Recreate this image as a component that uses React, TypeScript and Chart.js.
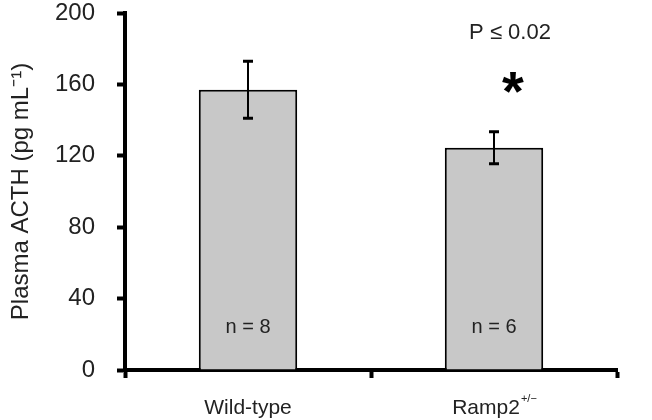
import React, { useEffect, useRef } from "react";
import { Chart, registerables } from "chart.js";

Chart.register(...registerables);

const categories = ["Wild-type", "Ramp2"];
const categorySuperscripts = ["", "+/\u2212"];
const means = [157, 124.5];
const errors = [16, 9];
const nLabels = ["n = 8", "n = 6"];
const yMin = 0;
const yMax = 200;
const yStep = 40;
const pLabel = "P \u2264 0.02";
const starLabel = "*";
const starIndex = 1;
const yTitle = "Plasma ACTH (pg mL\u207B\u00B9)";

const FONT = "'Liberation Sans', Arial, Helvetica, sans-serif";

const overlayPlugin = {
  id: "overlay",
  afterDatasetsDraw(chart: any) {
    const ctx = chart.ctx;
    const meta = chart.getDatasetMeta(0);
    const ys = chart.scales.y;
    const xs = chart.scales.x;
    ctx.save();
    // error bars
    meta.data.forEach((bar: any, i: number) => {
      const x = bar.x;
      const top = ys.getPixelForValue(means[i] + errors[i]);
      const bot = ys.getPixelForValue(means[i] - errors[i]);
      ctx.strokeStyle = "#000";
      ctx.lineWidth = 2;
      ctx.beginPath();
      ctx.moveTo(x, top);
      ctx.lineTo(x, bot);
      ctx.stroke();
      ctx.lineWidth = 3;
      ctx.beginPath();
      ctx.moveTo(x - 5, top);
      ctx.lineTo(x + 5, top);
      ctx.moveTo(x - 5, bot);
      ctx.lineTo(x + 5, bot);
      ctx.stroke();
    });
    // n labels
    ctx.fillStyle = "#222";
    ctx.font = `20px ${FONT}`;
    ctx.textAlign = "center";
    ctx.textBaseline = "middle";
    meta.data.forEach((bar: any, i: number) => {
      ctx.fillText(nLabels[i], bar.x, ys.getPixelForValue(24));
    });
    // significance
    const sx = meta.data[starIndex].x;
    ctx.font = `22px ${FONT}`;
    ctx.fillText(pLabel, sx + 16, ys.getPixelForValue(189));
    ctx.font = `bold 56px ${FONT}`;
    ctx.textBaseline = "middle";
    const cy = ys.getPixelForValue(153);
    ctx.fillStyle = "#000";
    ctx.fillText(starLabel, sx + 19, cy - 2);
    // x category labels
    ctx.fillStyle = "#222";
    ctx.textBaseline = "middle";
    const ly = xs.bottom - 12;
    categories.forEach((c, i) => {
      const cx = xs.getPixelForValue(i);
      ctx.font = `21px ${FONT}`;
      const w = ctx.measureText(c).width;
      ctx.font = `11px ${FONT}`;
      const sw = categorySuperscripts[i] ? ctx.measureText(categorySuperscripts[i]).width : 0;
      const total = w + sw;
      const start = cx - total / 2;
      ctx.textAlign = "left";
      ctx.font = `21px ${FONT}`;
      ctx.fillText(c, start, ly);
      if (sw) {
        ctx.font = `11px ${FONT}`;
        ctx.fillText(categorySuperscripts[i], start + w + 1, ly - 9);
      }
    });
    ctx.restore();
  },
};

export default function App() {
  const ref = useRef<HTMLCanvasElement>(null);
  useEffect(() => {
    if (!ref.current) return;
    const chart = new Chart(ref.current, {
      type: "bar",
      data: {
        labels: categories,
        datasets: [
          {
            data: means,
            backgroundColor: "#c8c8c8",
            borderColor: "#000",
            borderWidth: 2,
            borderSkipped: "bottom",
            categoryPercentage: 1,
            barPercentage: 0.4,
          },
        ],
      },
      options: {
        responsive: false,
        animation: false,
        layout: { padding: { top: 13, right: 35, left: 0, bottom: 0 } },
        plugins: { legend: { display: false }, tooltip: { enabled: false } },
        scales: {
          x: {
            type: "category",
            offset: true,
            z: 1,
            grid: {
              display: true,
              offset: true,
              drawOnChartArea: false,
              drawTicks: true,
              tickLength: 8,
              tickWidth: 4,
              tickColor: "#000",
              color: "#000",
            },
            border: { display: true, width: 4, color: "#000" },
            ticks: { display: false },
            afterFit: (s: any) => {
              s.height = 50;
              s.paddingLeft = 0;
              s.paddingRight = 0;
            },
          },
          y: {
            min: yMin,
            max: yMax,
            z: 1,
            ticks: {
              stepSize: yStep,
              color: "#222",
              padding: 22,
              font: { family: FONT, size: 24 },
            },
            grid: {
              display: true,
              drawOnChartArea: false,
              drawTicks: true,
              tickLength: 8,
              tickWidth: 4,
              tickColor: "#000",
              color: "#000",
            },
            border: { display: true, width: 4, color: "#000" },
            title: {
              display: true,
              text: yTitle,
              color: "#222",
              font: { family: FONT, size: 24 },
              padding: { top: 7, bottom: 0 },
            },
            afterFit: (s: any) => {
              s.width = 125;
              s.paddingTop = 0;
              s.paddingBottom = 0;
            },
          },
        },
      },
      plugins: [overlayPlugin],
    });
    return () => chart.destroy();
  }, []);
  return (
    <div style={{ position: "fixed", left: 0, top: 0, width: 652, height: 420, background: "#fff" }}>
      <canvas ref={ref} width={652} height={420} style={{ display: "block" }} />
    </div>
  );
}
